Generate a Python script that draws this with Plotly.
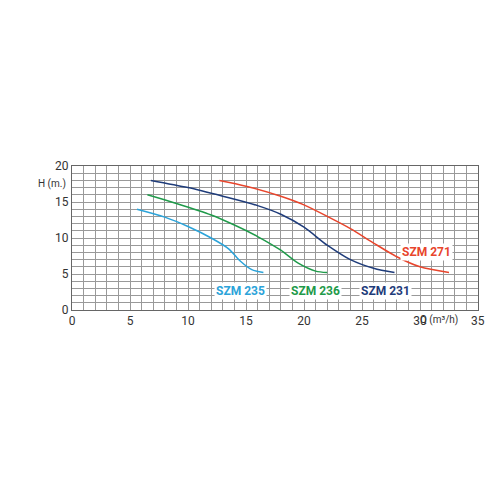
import plotly.graph_objects as go

x235 = [5.6, 8, 10, 12, 13.5, 14.5, 15.5, 16.5]
y235 = [14, 12.9, 11.6, 10, 8.5, 6.8, 5.6, 5.2]
x236 = [6.5, 9, 12, 14, 16, 18, 19.5, 21, 22]
y236 = [16, 14.8, 13.2, 11.8, 10.2, 8.3, 6.5, 5.4, 5.2]
x231 = [6.8, 10, 13, 16, 18, 20, 22, 24, 26, 27.8]
y231 = [18, 17, 15.8, 14.5, 13.3, 11.5, 9, 7, 5.8, 5.2]
x271 = [12.7, 15, 18, 20, 22, 24, 26, 28, 30, 32.5]
y271 = [18, 17.2, 15.8, 14.6, 13, 11.3, 9.3, 7.4, 6, 5.2]

series = [
    ("SZM 235", x235, y235, "#2ba3d9", 14.5, 2.6),
    ("SZM 236", x236, y236, "#1f9a4a", 21.0, 2.6),
    ("SZM 231", x231, y231, "#1f3c7a", 27.0, 2.6),
    ("SZM 271", x271, y271, "#e8452c", 30.6, 8.1),
]
xticks = [0, 5, 10, 15, 20, 25, 30]
yticks = [0, 5, 10, 15, 20]

fig = go.Figure()
for name, xs, ys, c, lx, ly in series:
    fig.add_trace(go.Scatter(x=xs, y=ys, mode="lines", line=dict(color=c, width=1.5, shape="spline", smoothing=0.8), showlegend=False))
    fig.add_annotation(x=lx, y=ly, text="<b>%s</b>" % name, showarrow=False, bgcolor="white",
                       font=dict(color=c, size=12, family="Roboto"))
fig.add_annotation(x=31.6, xref="x", y=0, yref="paper", yanchor="top", yshift=-2, text="Q (m³/h)",
                   showarrow=False, font=dict(color="#333", size=10, family="Roboto"))
fig.add_annotation(x=35, xref="x", y=0, yref="paper", yanchor="top", yshift=-2, text="35",
                   showarrow=False, font=dict(color="#333", size=12, family="Roboto"))
fig.add_annotation(x=0, xref="x", y=17.5, xanchor="right", xshift=-4, text="H (m.)", showarrow=False,
                   font=dict(color="#333", size=10, family="Roboto"))
fig.update_xaxes(range=[0, 35], tickvals=xticks, showgrid=True, gridcolor="#999", gridwidth=1,
                 showline=True, linecolor="#666", mirror=True, automargin=False,
                 tickfont=dict(size=12, color="#333", family="Roboto"), zeroline=False,
                 minor=dict(dtick=1, showgrid=True, gridcolor="#999"))
fig.update_yaxes(range=[0, 20], tickvals=yticks, showgrid=True, gridcolor="#999", showline=True,
                 linecolor="#666", mirror=True, automargin=False,
                 tickfont=dict(size=12, color="#333", family="Roboto"),
                 zeroline=False, minor=dict(dtick=1, showgrid=True, gridcolor="#999"))
fig.update_layout(width=500, height=500, margin=dict(l=64, r=30, t=158, b=198),
                  plot_bgcolor="white", paper_bgcolor="white")
fig.write_html("out.html")
